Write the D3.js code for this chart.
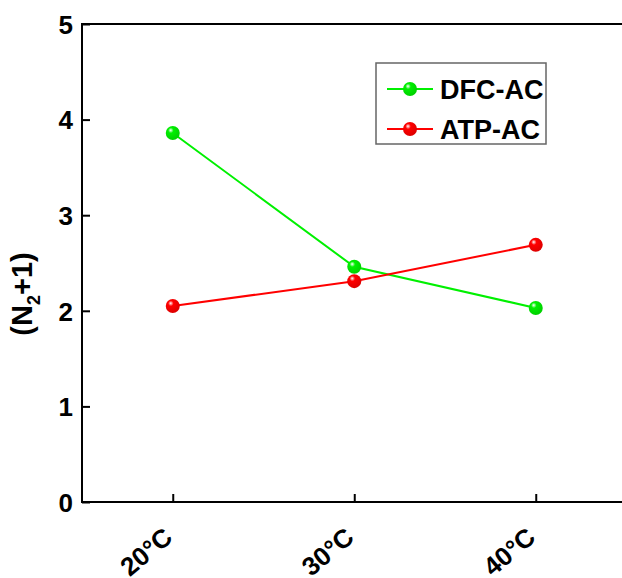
<!DOCTYPE html>
<html>
<head>
<meta charset="utf-8">
<script src="https://cdn.jsdelivr.net/npm/d3@7"></script>
<style>
  body { margin: 0; background: #fff; }
  svg { display: block; font-family: "Liberation Sans", Arial, sans-serif; }
</style>
</head>
<body>
<div id="chart"></div>
<script>
// data
let temps = ['20°C', '30°C', '40°C']
let dfcAC = [3.86, 2.46, 2.03]
let atpAC = [2.05, 2.31, 2.69]
let yTicks = [0, 1, 2, 3, 4, 5]
let seriesNames = ['DFC-AC', 'ATP-AC']
let seriesColors = ['#00f000', '#ff0000']

let W = 622, H = 578
let mLeft = 82, mTop = 24, mBottom = 502, mRight = 626.5

let svg = d3.select('#chart').append('svg')
	.attr('width', W).attr('height', H)

let defs = svg.append('defs')
seriesColors.forEach(function(c, i){
	let g = defs.append('radialGradient')
		.attr('id', 'ball' + i)
		.attr('cx', '40%').attr('cy', '35%').attr('r', '65%')
		.attr('fx', '35%').attr('fy', '30%')
	g.append('stop').attr('offset', '0%').attr('stop-color', '#ffffff')
	g.append('stop').attr('offset', '30%').attr('stop-color', c)
	g.append('stop').attr('offset', '100%').attr('stop-color', d3.color(c).darker(0.4))
})

let x = d3.scalePoint().domain(temps).range([mLeft, mRight]).padding(0.5)
let y = d3.scaleLinear().domain([0, 5]).range([mBottom, mTop])

// frame (top + left + bottom, right side runs off the page)
svg.append('line').attr('x1', mLeft).attr('x2', W).attr('y1', mTop).attr('y2', mTop)
	.attr('stroke', '#000').attr('stroke-width', 2)

let yAxis = svg.append('g')
	.attr('transform', 'translate(' + mLeft + ',0)')
	.call(d3.axisRight(y).tickValues(yTicks).tickSize(8).tickFormat(d3.format('d')))
yAxis.select('.domain').remove()
yAxis.append('line').attr('x1', 0).attr('x2', 0).attr('y1', mTop - 1).attr('y2', mBottom + 1)
	.attr('stroke', '#000').attr('stroke-width', 2)
yAxis.selectAll('.tick line').attr('stroke', '#000').attr('stroke-width', 2)
yAxis.selectAll('.tick text')
	.attr('x', -9).attr('text-anchor', 'end').attr('dy', '0.36em')
	.attr('fill', '#000').style('font-size', '26px').style('font-weight', 'bold')

let xAxis = svg.append('g')
	.attr('transform', 'translate(0,' + mBottom + ')')
	.call(d3.axisTop(x).tickSize(8).tickSizeOuter(0))
xAxis.select('.domain').remove()
xAxis.append('line').attr('x1', mLeft - 1).attr('x2', W).attr('y1', 0).attr('y2', 0)
	.attr('stroke', '#000').attr('stroke-width', 2)
xAxis.selectAll('.tick line').attr('stroke', '#000').attr('stroke-width', 2)
xAxis.selectAll('.tick text')
	.attr('y', 0).attr('dy', 0)
	.attr('text-anchor', 'end')
	.attr('transform', 'translate(1,38) rotate(-40)')
	.attr('fill', '#000').style('font-size', '26px').style('font-weight', 'bold')

// y title
let yt = svg.append('text')
	.attr('transform', 'translate(32,294) rotate(-90)')
	.attr('text-anchor', 'middle')
	.style('font-size', '29px').style('font-weight', 'bold')
yt.append('tspan').text('(N')
yt.append('tspan').text('2').style('font-size', '18px').attr('dy', 8)
yt.append('tspan').text('+1)').attr('dy', -8)

// series
let line = d3.line().x(function(d, i){ return x(temps[i]) }).y(function(d){ return y(d) })
let allSeries = [dfcAC, atpAC]
allSeries.forEach(function(s, i){
	svg.append('path').datum(s)
		.attr('d', line)
		.attr('fill', 'none')
		.attr('stroke', seriesColors[i])
		.attr('stroke-width', 2)
})
allSeries.forEach(function(s, i){
	svg.selectAll('.ball' + i).data(s).enter()
		.append('circle')
		.attr('cx', function(d, j){ return x(temps[j]) })
		.attr('cy', function(d){ return y(d) })
		.attr('r', 7)
		.attr('fill', 'url(#ball' + i + ')')
})

// legend
let lg = svg.append('g')
lg.append('rect').attr('x', 376).attr('y', 63).attr('width', 170).attr('height', 81)
	.attr('fill', '#fff').attr('stroke', '#666').attr('stroke-width', 1.5)
seriesNames.forEach(function(n, i){
	let ly = 89 + i * 40
	lg.append('line').attr('x1', 387).attr('x2', 433).attr('y1', ly).attr('y2', ly)
		.attr('stroke', seriesColors[i]).attr('stroke-width', 2)
	lg.append('circle').attr('cx', 410).attr('cy', ly).attr('r', 7)
		.attr('fill', 'url(#ball' + i + ')')
	lg.append('text').attr('x', 440).attr('y', ly).attr('dy', '0.36em')
		.style('font-size', '27px').style('font-weight', 'bold')
		.text(n)
})
</script>
</body>
</html>
